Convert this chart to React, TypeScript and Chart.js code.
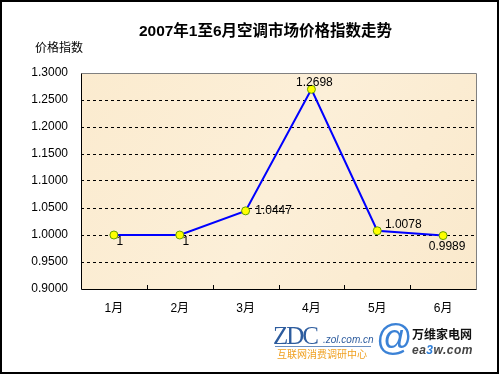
import React, { useEffect, useRef } from "react";
import { Chart, registerables } from "chart.js";

Chart.register(...registerables);

const TITLE = "2007年1至6月空调市场价格指数走势";
const Y_TITLE = "价格指数";
const CATEGORIES = ["1月", "2月", "3月", "4月", "5月", "6月"];
const VALUES = [1, 1, 1.0447, 1.2698, 1.0078, 0.9989];
const VALUE_LABELS = ["1", "1", "1.0447", "1.2698", "1.0078", "0.9989"];
const Y_MIN = 0.9;
const Y_MAX = 1.3;
const Y_STEP = 0.05;

// label offsets (style, relative to each point)
const LABEL_OFFSETS: [number, number][] = [
  [6, 7],
  [6, 7],
  [28, 0],
  [3, -7],
  [26, -6],
  [4, 11],
];

const FONT = '"Liberation Sans", Arial, "Noto Sans CJK SC", sans-serif';

const framePlugin = {
  id: "frame",
  beforeDraw(chart: any) {
    const { ctx, chartArea: a } = chart;
    ctx.save();
    ctx.fillStyle = "#ffffff";
    ctx.fillRect(0, 0, chart.width, chart.height);
    const g = ctx.createLinearGradient(a.left, a.top, a.right, a.bottom);
    g.addColorStop(0, "#fbebcf");
    g.addColorStop(0.5, "#fcefd8");
    g.addColorStop(1, "#fae9cc");
    ctx.fillStyle = g;
    ctx.fillRect(a.left, a.top, a.right - a.left, a.bottom - a.top);
    ctx.restore();
  },
  afterDraw(chart: any) {
    const { ctx, chartArea: a } = chart;
    const x = chart.scales.x;
    ctx.save();
    // title
    ctx.fillStyle = "#000";
    ctx.textAlign = "center";
    ctx.textBaseline = "middle";
    ctx.font = `bold 15.5px ${FONT}`;
    ctx.fillText(TITLE, 265.5, 31.5);
    ctx.font = `12px ${FONT}`;
    ctx.textAlign = "left";
    ctx.fillText(Y_TITLE, 35, 49);
    // plot frame
    ctx.lineWidth = 1;
    ctx.strokeStyle = "#808080";
    ctx.beginPath();
    ctx.moveTo(Math.round(a.left) + 0.5, Math.round(a.top) + 0.5);
    ctx.lineTo(Math.round(a.right) + 0.5, Math.round(a.top) + 0.5);
    ctx.lineTo(Math.round(a.right) + 0.5, Math.round(a.bottom) + 0.5);
    ctx.stroke();
    ctx.strokeStyle = "#000";
    ctx.beginPath();
    ctx.moveTo(Math.round(a.left) + 0.5, Math.round(a.top) + 0.5);
    ctx.lineTo(Math.round(a.left) + 0.5, Math.round(a.bottom) + 0.5);
    ctx.lineTo(Math.round(a.right) + 0.5, Math.round(a.bottom) + 0.5);
    ctx.stroke();
    // inside tick marks at category boundaries
    ctx.beginPath();
    for (let i = 1; i < CATEGORIES.length; i++) {
      const px = Math.round((x.getPixelForValue(i - 1) + x.getPixelForValue(i)) / 2) + 0.5;
      ctx.moveTo(px, Math.round(a.bottom));
      ctx.lineTo(px, Math.round(a.bottom) - 4);
    }
    ctx.stroke();
    // outer border
    ctx.lineWidth = 2;
    ctx.strokeRect(1, 1, 497, 372);
    ctx.restore();
  },
  afterDatasetsDraw(chart: any) {
    const { ctx } = chart;
    const meta = chart.getDatasetMeta(0);
    ctx.save();
    ctx.fillStyle = "#000";
    ctx.font = `12px ${FONT}`;
    ctx.textAlign = "center";
    ctx.textBaseline = "middle";
    meta.data.forEach((pt: any, i: number) => {
      const [dx, dy] = LABEL_OFFSETS[i];
      ctx.fillText(VALUE_LABELS[i], pt.x + dx, pt.y + dy);
    });
    ctx.restore();
  },
};

function ChartCanvas() {
  const ref = useRef<HTMLCanvasElement | null>(null);
  useEffect(() => {
    if (!ref.current) return;
    const chart = new Chart(ref.current, {
      type: "line",
      data: {
        labels: CATEGORIES,
        datasets: [
          {
            data: VALUES,
            borderColor: "#0000ff",
            borderWidth: 2,
            pointRadius: 4,
            pointBackgroundColor: "#ffff00",
            pointBorderColor: "#66a000",
            pointBorderWidth: 1,
            tension: 0,
            fill: false,
          },
        ],
      },
      options: {
        animation: false,
        responsive: false,
        events: [],
        layout: { padding: { left: 0, right: 24, top: 73, bottom: 0 } },
        plugins: {
          legend: { display: false },
          title: { display: false },
          tooltip: { enabled: false },
        },
        scales: {
          x: {
            type: "category",
            offset: true,
            grid: { display: false, drawTicks: false },
            border: { display: false },
            ticks: { color: "#000", font: { size: 12, family: FONT }, padding: 12 },
            afterFit(scale: any) {
              scale.height = 86;
            },
          },
          y: {
            min: Y_MIN,
            max: Y_MAX,
            grid: {
              drawTicks: false,
              color: (c: any) => {
                const v = c.tick ? c.tick.value : 0;
                if (Math.abs(v - Y_MIN) < 1e-6 || Math.abs(v - Y_MAX) < 1e-6) return "rgba(0,0,0,0)";
                return "#000";
              },
              lineWidth: 1,
            },
            border: { display: false, dash: [3, 3] },
            ticks: {
              stepSize: Y_STEP,
              color: "#000",
              font: { size: 12, family: FONT },
              padding: 13,
              callback: (v: any) => Number(v).toFixed(4),
            },
            afterFit(scale: any) {
              scale.width = 81;
            },
          },
        },
      },
      plugins: [framePlugin],
    } as any);
    return () => chart.destroy();
  }, []);
  return <canvas ref={ref} width={500} height={375} style={{ display: "block" }} />;
}

export default function App() {
  return (
    <div style={{ position: "fixed", left: 0, top: 0, width: 500, height: 375, background: "#fff", overflow: "hidden" }}>
      <ChartCanvas />
      <div style={{ position: "absolute", left: 273, top: 323, fontFamily: '"Liberation Serif", serif', fontSize: 25, color: "#2d5c9e", letterSpacing: -2, lineHeight: "25px" }}>ZDC</div>
      <div style={{ position: "absolute", left: 323, top: 334, fontFamily: FONT, fontStyle: "italic", fontSize: 10, color: "#2d5c9e", lineHeight: "11px" }}>.zol.com.cn</div>
      <div style={{ position: "absolute", left: 275, top: 346, width: 96, height: 1, background: "#6a8fc0" }} />
      <div style={{ position: "absolute", left: 277, top: 348, fontFamily: '"Noto Sans CJK SC", sans-serif', fontSize: 10, color: "#f0a020", lineHeight: "11px", letterSpacing: 0 }}>互联网消费调研中心</div>
      <div style={{ position: "absolute", left: 376, top: 320, fontFamily: '"Liberation Sans", sans-serif', fontSize: 36, color: "#3b82d6", lineHeight: "36px" }}>@</div>
      <div style={{ position: "absolute", left: 412, top: 327, fontFamily: '"Noto Sans CJK SC", sans-serif', fontWeight: "bold", fontSize: 12, color: "#111", lineHeight: "14px" }}>万维家电网</div>
      <div style={{ position: "absolute", left: 412, top: 343, fontFamily: '"Liberation Sans", sans-serif', fontWeight: "bold", fontStyle: "italic", fontSize: 12, color: "#444", lineHeight: "14px", letterSpacing: 0.5 }}>
        ea<span style={{ color: "#2f7fd8" }}>3</span>w.com
      </div>
    </div>
  );
}
